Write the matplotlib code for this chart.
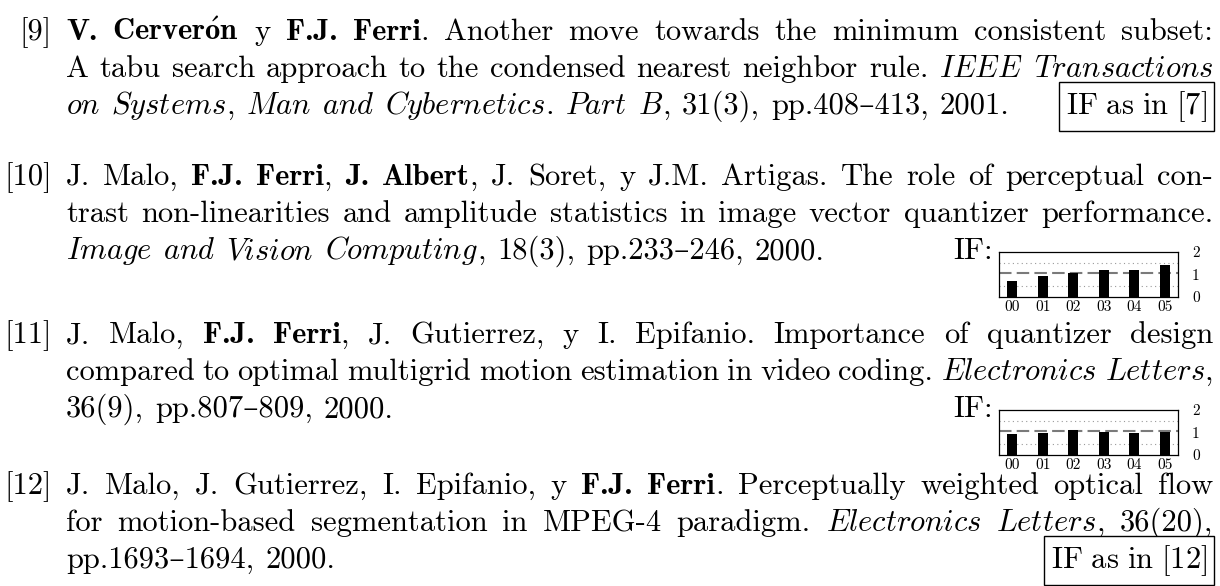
"""Publication list excerpt with small impact-factor bar charts."""
from __future__ import annotations

import matplotlib

matplotlib.use("Agg")
import matplotlib.pyplot as plt

W, H = 1220, 586
FS = 22

# impact factor per year
YEARS = ["00", "01", "02", "03", "04", "05"]
IF_IMAGE_VISION = [0.71, 0.93, 1.07, 1.20, 1.20, 1.42]
IF_ELECTRONICS = [0.93, 0.99, 1.11, 1.04, 0.99, 1.04]
IF_REFERENCE = 1.05
IF_TICKS = [0, 1, 2]

REF_LABELS = ["[9]", "[10]", "[11]", "[12]"]
# '*' toggles bold, '_' toggles italic
REF_LINES = [
    [
        "*V. Cerverón* y *F.J. Ferri*. Another move towards the minimum consistent subset:",
        "A tabu search approach to the condensed nearest neighbor rule. _IEEE Transactions_",
        "_on Systems_, _Man and Cybernetics_. _Part B_, 31(3), pp.408–413, 2001.",
    ],
    [
        "J. Malo, *F.J. Ferri*, *J. Albert*, J. Soret, y J.M. Artigas. The role of perceptual con-",
        "trast non-linearities and amplitude statistics in image vector quantizer performance.",
        "_Image and Vision Computing_, 18(3), pp.233–246, 2000.",
    ],
    [
        "J. Malo, *F.J. Ferri*, J. Gutierrez, y I. Epifanio. Importance of quantizer design",
        "compared to optimal multigrid motion estimation in video coding. _Electronics Letters_,",
        "36(9), pp.807–809, 2000.",
    ],
    [
        "J. Malo, J. Gutierrez, I. Epifanio, y *F.J. Ferri*. Perceptually weighted optical flow",
        "for motion-based segmentation in MPEG-4 paradigm. _Electronics Letters_, 36(20),",
        "pp.1693–1694, 2000.",
    ],
]
IF_NOTES = ["IF as in [7]", "IF:", "IF:", "IF as in [12]"]
IF_CHARTS = [None, IF_IMAGE_VISION, IF_ELECTRONICS, None]

# layout in pixels from the top-left corner
BASELINES = [(40, 77, 114), (185, 222, 259), (343, 380, 417), (494, 531, 568)]
X_LABEL, X_TEXT, X_RIGHT = 52, 66, 1213
CH_X0, CH_X1, CH_H = 999, 1178, 45
SPACE = 0.36 * FS * 100 / 72

plt.rcParams["mathtext.fontset"] = "cm"
fig = plt.figure(figsize=(W / 100, H / 100), dpi=100)
fig.patch.set_facecolor("white")
renderer = fig.canvas.get_renderer()

RM = ["cmr10", "DejaVu Serif"]
BF = ["cmb10", "DejaVu Serif"]


def fpos(x, y):
    return x / W, 1 - y / H


def parse(line):
    style, chars = "rm", []
    for ch in line:
        if ch == "*":
            style = "rm" if style == "bf" else "bf"
        elif ch == "_":
            style = "rm" if style == "it" else "it"
        else:
            chars.append((ch, style))
    words, cur = [], []
    for ch, st in chars:
        if ch == " ":
            if cur:
                words.append(cur)
                cur = []
            continue
        if cur and cur[-1][1] == st:
            cur[-1] = (cur[-1][0] + ch, st)
        else:
            cur.append((ch, st))
    if cur:
        words.append(cur)
    return words


def run_text(s, st):
    if st == "it":
        return fig.text(0, 0, r"$\mathit{%s}$" % s, fontsize=FS, va="baseline")
    if "ó" in s:
        # cmb10 has no accented letters, build the accent in mathtext instead
        body = s.replace("ó", r"\acute{o}")
        cmd = r"\mathbf" if st == "bf" else r"\mathrm"
        return fig.text(0, 0, "$%s{%s}$" % (cmd, body), fontsize=FS, va="baseline")
    return fig.text(0, 0, s, fontsize=FS, va="baseline",
                    family=BF if st == "bf" else RM,
                    weight="bold" if st == "bf" else "normal")


def draw_line(line, y, justify):
    placed = []
    for word in parse(line):
        runs = [run_text(s, st) for s, st in word]
        placed.append((runs, [t.get_window_extent(renderer).width for t in runs]))
    total = sum(sum(ws) for _, ws in placed)
    gap = (X_RIGHT - X_TEXT - total) / (len(placed) - 1) if justify else SPACE
    x = X_TEXT
    for runs, widths in placed:
        for t, w in zip(runs, widths):
            t.set_position(fpos(x, y))
            x += w
        x += gap
    return x - gap


def if_chart(top, values):
    ax = fig.add_axes([CH_X0 / W, 1 - (top + CH_H) / H, (CH_X1 - CH_X0) / W, CH_H / H])
    ax.bar(range(len(values)), values, width=0.33, color="black", zorder=3)
    ax.axhline(IF_REFERENCE, color="#7a7a7a", lw=1.5, ls=(0, (6, 2.5)), zorder=2)
    ax.set_xlim(-0.43, len(values) - 0.57)
    ax.set_ylim(IF_TICKS[0], IF_TICKS[-1])
    ax.set_xticks(range(len(values)), YEARS)
    ax.set_yticks(IF_TICKS, [str(v) for v in IF_TICKS])
    ax.set_yticks([0.5, 1.5], minor=True)
    ax.grid(which="minor", axis="y", color="#9a9a9a", lw=0.8, ls=(0, (1, 3)), zorder=1)
    ax.yaxis.tick_right()
    ax.tick_params(which="both", length=0, labelsize=11)
    ax.tick_params(axis="x", pad=2.5)
    ax.tick_params(axis="y", pad=10)
    for lab in ax.get_xticklabels() + ax.get_yticklabels():
        lab.set_family(RM)
    for sp in ax.spines.values():
        sp.set_linewidth(0.9)
    return ax


for label, lines, ys, note, chart in zip(REF_LABELS, REF_LINES, BASELINES, IF_NOTES, IF_CHARTS):
    fig.text(*fpos(X_LABEL, ys[0]), label, fontsize=FS, family=RM, ha="right", va="baseline")
    draw_line(lines[0], ys[0], True)
    draw_line(lines[1], ys[1], True)
    draw_line(lines[2], ys[2], False)
    if chart is None:
        txt = r"$\mathrm{%s}$" % note.replace(" ", r"\ ")
        fig.text(*fpos(X_RIGHT - 6, ys[2]), txt, fontsize=FS, ha="right", va="baseline",
                 bbox=dict(boxstyle="square,pad=0.22", fc="white", ec="black", lw=1.0))
    else:
        fig.text(*fpos(CH_X0 - 6, ys[2]), note, fontsize=FS, family=RM, ha="right", va="baseline")
        if_chart(ys[2] - 7, chart)

fig.savefig("out.png", dpi=100, facecolor="white")
